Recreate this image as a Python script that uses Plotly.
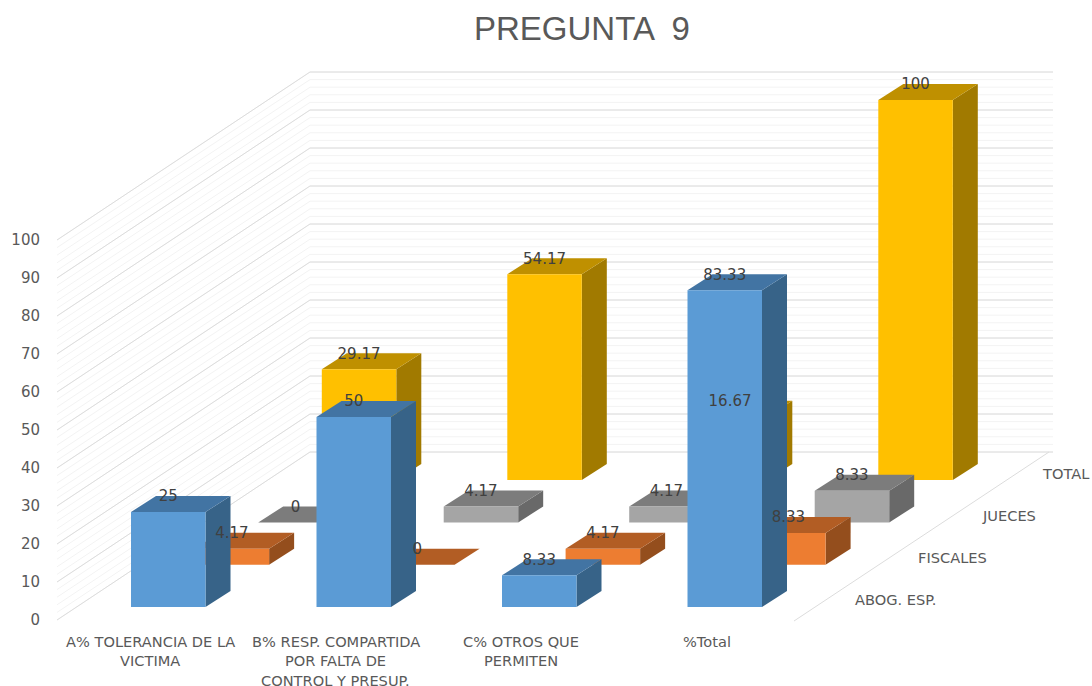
import plotly.graph_objects as go

# ---- data ----
categories = ["A% TOLERANCIA DE LA<br>VICTIMA", "B% RESP. COMPARTIDA<br>POR FALTA DE<br>CONTROL Y PRESUP.",
              "C% OTROS QUE<br>PERMITEN", "%Total"]
series_names = ["ABOG. ESP.", "FISCALES", "JUECES", "TOTAL"]
abog = [25, 50, 8.33, 83.33]
fiscales = [4.17, 0, 4.17, 8.33]
jueces = [0, 4.17, 4.17, 8.33]
total = [29.17, 54.17, 16.67, 100]
series_values = [abog, fiscales, jueces, total]
value_ticks = list(range(0, 101, 10))
title = "PREGUNTA  9"

# ---- colours: front, top, side ----
colors = [("#5B9BD5", "#4274A3", "#376388"),
          ("#ED7D31", "#B25D24", "#944E1D"),
          ("#A5A5A5", "#7C7C7C", "#696969"),
          ("#FFC000", "#BF9000", "#A17A00")]
TXT = "#595959"
LBL = "#404040"
FONT = "DejaVu Sans"

# ---- oblique projection of the 3D chart box ----
X0, Y0 = 57.0, 620.0       # front-left floor corner
PX_CAT, PX_VAL = 185.5, 3.8
DEPTH_DX, DEPTH_DY = 63.6, 42.3   # per series step
BAR_W = 74.5
BAR_DX, BAR_DY = 25.0, 16.0
CAT_OFF, SER_OFF = 74.0, 13.0     # first bar front-left relative to the corner
WALL_DX, WALL_DY = 253.0, 168.0
FLOOR_W = 743.0


def base(cat, ser):
    return (X0 + CAT_OFF + PX_CAT * cat + DEPTH_DX * ser, Y0 - SER_OFF - DEPTH_DY * ser)


fig = go.Figure()


def poly(xs, ys, color):
    fig.add_trace(go.Scatter(x=xs, y=ys, mode="lines", fill="toself", fillcolor=color,
                             line=dict(width=0, color=color), hoverinfo="skip", showlegend=False))


# walls / gridlines
for step, col in ((2, "#F3F3F3"), (10, "#DCDCDC")):
    gx, gy = [], []
    for v in range(0, 101, step):
        h = v * PX_VAL
        gx += [X0, X0 + WALL_DX, X0 + WALL_DX + FLOOR_W, None]
        gy += [Y0 - h, Y0 - WALL_DY - h, Y0 - WALL_DY - h, None]
    fig.add_trace(go.Scatter(x=gx, y=gy, mode="lines", line=dict(color=col, width=1),
                             hoverinfo="skip", showlegend=False))
# right floor edge
fig.add_trace(go.Scatter(x=[X0 + FLOOR_W - 6, X0 + FLOOR_W + WALL_DX - 4], y=[Y0 + 1, Y0 - WALL_DY],
                         mode="lines", line=dict(color="#DCDCDC", width=1), hoverinfo="skip", showlegend=False))

# bars, back to front
for s in range(len(series_values) - 1, -1, -1):
    front, top, side = colors[s]
    for c, v in enumerate(series_values[s]):
        x, y = base(c, s)
        h = v * PX_VAL
        poly([x + BAR_W, x + BAR_W + BAR_DX, x + BAR_W + BAR_DX, x + BAR_W, x + BAR_W],
             [y, y - BAR_DY, y - BAR_DY - h, y - h, y], side)
        poly([x, x + BAR_DX, x + BAR_W + BAR_DX, x + BAR_W, x],
             [y - h, y - h - BAR_DY, y - h - BAR_DY, y - h, y - h], top)
        poly([x, x + BAR_W, x + BAR_W, x, x], [y, y, y - h, y - h, y], front)

# value labels
lx, ly, lt = [], [], []
for s, vals in enumerate(series_values):
    for c, v in enumerate(vals):
        x, y = base(c, s)
        lx.append(x + BAR_W / 2)
        ly.append(y - v * PX_VAL - 14.5)
        lt.append(str(v))
fig.add_trace(go.Scatter(x=lx, y=ly, text=lt, mode="text", textposition="middle center",
                         textfont=dict(family=FONT, size=15, color=LBL),
                         hoverinfo="skip", showlegend=False))

# value axis labels
fig.add_trace(go.Scatter(x=[X0 - 17] * len(value_ticks), y=[Y0 + 1.5 - v * PX_VAL for v in value_ticks],
                         text=[str(v) for v in value_ticks], mode="text", textposition="middle left",
                         textfont=dict(family=FONT, size=15, color=TXT),
                         hoverinfo="skip", showlegend=False))

# category labels, one annotation per line
for i, cat in enumerate(categories):
    for j, line in enumerate(cat.split("<br>")):
        fig.add_annotation(x=X0 + 93 + PX_CAT * i, y=641 + 19.5 * j, text=line, showarrow=False,
                           xanchor="center", yanchor="middle", align="center",
                           font=dict(family=FONT, size=14.6, color=TXT))

# depth labels
for i, name in enumerate(series_names):
    fig.add_annotation(x=895 + 57 * i, y=599 - 42 * i, text=name, showarrow=False,
                       xanchor="center", yanchor="middle",
                       font=dict(family=FONT, size=14.6, color=TXT))

# title
fig.add_annotation(x=582, y=28, text=title, showarrow=False, xanchor="center", yanchor="middle",
                   font=dict(family="Liberation Sans", size=33, color=TXT))

fig.update_layout(width=1092, height=686, margin=dict(l=0, r=0, t=0, b=0), autosize=False,
                  paper_bgcolor="white", plot_bgcolor="white", showlegend=False,
                  xaxis=dict(range=[0, 1092], visible=False, fixedrange=True),
                  yaxis=dict(range=[686, 0], visible=False, fixedrange=True))
fig.write_html("out.html", config=dict(displayModeBar=False),
               post_script="document.body.style.margin='0';document.body.style.overflow='hidden';")
